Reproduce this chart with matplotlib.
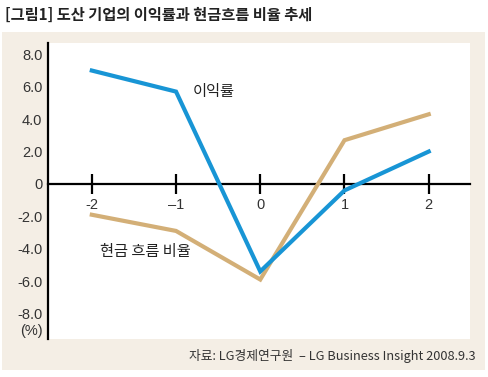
import matplotlib
matplotlib.use("Agg")
import matplotlib.pyplot as plt
from matplotlib.patches import Rectangle

plt.rcParams["font.family"] = ["Noto Sans CJK KR", "DejaVu Sans"]

# ---------------------------------------------------------------------------
# Data
# ---------------------------------------------------------------------------
years = [-2, -1, 0, 1, 2]
profit_rate = [7.0, 5.7, -5.4, -0.4, 2.0]      # 이익률
cashflow_ratio = [-1.9, -2.9, -5.9, 2.7, 4.3]  # 현금 흐름 비율
y_ticks = [8, 6, 4, 2, 0, -2, -4, -6, -8]
x_ticks = [-2, -1, 0, 1, 2]

BLUE = "#1895d5"
TAN = "#d3af77"
BEIGE = "#f4eee5"

W, H = 489, 377
fig = plt.figure(figsize=(W / 100, H / 100), dpi=100)
fig.patch.set_facecolor("white")

# beige panel behind the plot
fig.patches.append(Rectangle((2 / W, 1 - 370 / H), 483 / W, 338 / H,
                             transform=fig.transFigure, facecolor=BEIGE,
                             edgecolor="none", zorder=-10))

ax = fig.add_axes([48 / W, 1 - 339 / H, 422 / W, 296 / H])
ax.set_zorder(5)
ax.set_facecolor("white")

ax.plot(years, cashflow_ratio, color=TAN, lw=3.0, solid_joinstyle="miter", zorder=3)
ax.plot(years, profit_rate, color=BLUE, lw=3.0, solid_joinstyle="miter", zorder=4)

ax.set_xlim(-2.52, 2.49)
ax.set_ylim(-9.57, 8.7)

for s in ["top", "right"]:
    ax.spines[s].set_visible(False)
ax.spines["left"].set_linewidth(1.6)
ax.spines["bottom"].set_position(("data", 0))
ax.spines["bottom"].set_linewidth(1.6)

ax.set_xticks(x_ticks)
ax.set_xticklabels(["-2", "\u20131", "0", "1", "2"])
ax.tick_params(axis="x", direction="inout", length=14, width=1.6, pad=3,
               labelsize=10.5, labelcolor="#333333")
for lbl in ax.get_xticklabels():
    lbl.set_fontfamily("Liberation Sans")

ax.set_yticks(y_ticks)
ax.set_yticklabels([f"{v:.1f}" if v != 0 else "0" for v in y_ticks])
ax.tick_params(axis="y", length=0, pad=4, labelsize=10.5, labelcolor="#333333")
for lbl in ax.get_yticklabels():
    lbl.set_fontfamily("Liberation Sans")

ax.text(-0.012, -9.1, "(%)", ha="right", va="center", fontsize=10.5,
        color="#333333", family="Liberation Sans",
        transform=ax.get_yaxis_transform())

# series labels
ax.text(-0.8, 5.7, "이익률", ha="left", va="center", fontsize=11, color="#222222")
ax.text(-1.9, -4.2, "현금 흐름 비율", ha="left", va="center", fontsize=11,
        color="#222222")

# title and source
fig.text(5 / W, 1 - 15 / H, "[그림1] 도산 기업의 이익률과 현금흐름 비율 추세",
         ha="left", va="center", fontsize=11, fontweight="bold", color="#222222")
fig.text(476 / W, 1 - 356 / H, "자료: LG경제연구원  \u2013 LG Business Insight 2008.9.3",
         ha="right", va="center", fontsize=9.2, color="#333333")

fig.savefig("out.png", dpi=100)
